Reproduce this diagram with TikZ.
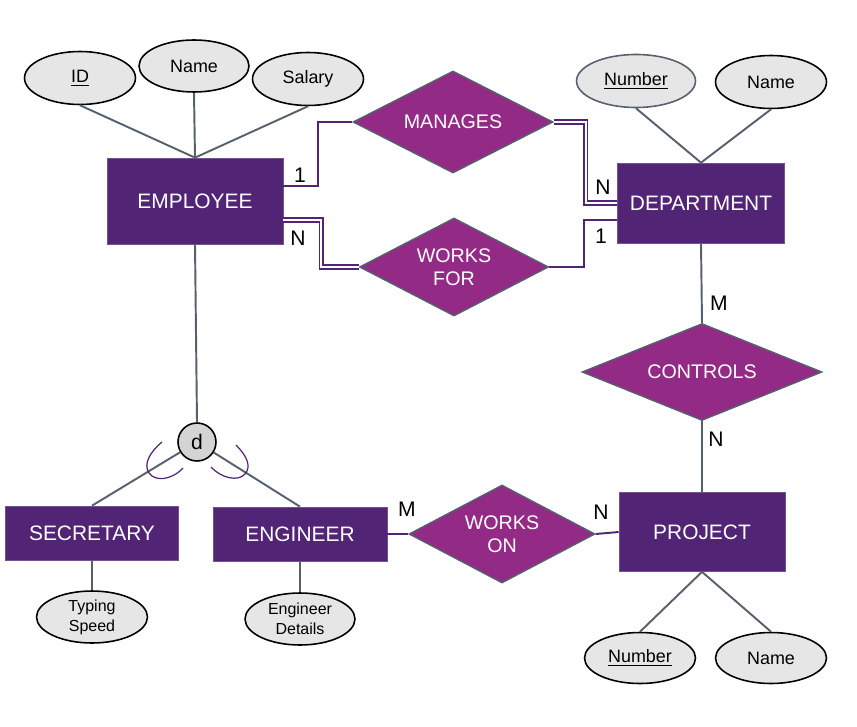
\documentclass[tikz,border=0pt]{standalone}
\usepackage{fontspec}
\setmainfont{Liberation Sans}
\usetikzlibrary{shapes.geometric}

\definecolor{entcol}{HTML}{522475}
\definecolor{relcol}{HTML}{932A86}
\definecolor{linecol}{HTML}{56606E}
\definecolor{attrcol}{HTML}{E6E6E6}

\tikzset{
  entity/.style={draw=entcol!80!white, fill=entcol, text=white, inner sep=0pt,
    font=\fontsize{11.9}{14}\selectfont},
  relation/.style={diamond, draw=linecol, line width=0.8pt, fill=relcol, inner sep=0pt},
  reltext/.style={text=white, align=center, font=\fontsize{11.2}{13}\selectfont},
  attr/.style={ellipse, draw=black, line width=0.9pt, fill=attrcol, inner sep=0pt,
    minimum width=2.22cm, minimum height=1.06cm, font=\fontsize{10.2}{12}\selectfont},
  smallattr/.style={attr, align=center, font=\fontsize{9.1}{11.3}\selectfont},
  card/.style={font=\fontsize{12}{14}\selectfont},
  aline/.style={draw=linecol, line width=1.1pt},
  rline/.style={draw=entcol, line width=1.1pt},
  dline/.style={draw=entcol, line width=0.8pt, double=white, double distance=1.3pt},
}

\begin{document}
\begin{tikzpicture}[x=0.02cm, y=-0.02cm]
\useasboundingbox (0,0) rectangle (857,726);

% entities
\node (emp) [entity, minimum width=3.52cm, minimum height=1.72cm] at (195,201) {EMPLOYEE};
\node (dept) [entity, minimum width=3.34cm, minimum height=1.6cm] at (701,203) {DEPARTMENT};
\node (proj) [entity, minimum width=3.32cm, minimum height=1.58cm] at (702,532) {PROJECT};
\node (sec) [entity, minimum width=3.46cm, minimum height=1.08cm] at (92,533) {SECRETARY};
\node (eng) [entity, minimum width=3.48cm, minimum height=1.08cm] at (300,534) {ENGINEER};

% relationships
\node (manages) [relation, minimum width=4cm, minimum height=2.04cm,
  label={[reltext]center:MANAGES}] at (453,122) {};
\node (worksfor) [relation, minimum width=3.78cm, minimum height=1.96cm,
  label={[reltext]center:WORKS\\FOR}] at (454,267) {};
\node (controls) [relation, minimum width=4.8cm, minimum height=1.94cm,
  label={[reltext]center:CONTROLS}] at (702,372) {};
\node (workson) [relation, minimum width=3.72cm, minimum height=1.96cm,
  label={[reltext]center:WORKS\\ON}] at (502,534) {};

% attributes
\node (empid) [attr] at (80,78) {\underline{ID}};
\node (empname) [attr, minimum width=2.2cm, minimum height=1.04cm] at (194,66) {Name};
\node (empsal) [attr] at (308,79) {Salary};
\node (deptnum) [attr, draw=linecol, minimum width=2.38cm] at (636,81) {\underline{Number}};
\node (deptname) [attr] at (771,82) {Name};
\node (projnum) [attr, minimum height=1.02cm] at (640,658) {\underline{Number}};
\node (projname) [attr, minimum height=1.02cm] at (771,658) {Name};
\node (typing) [smallattr, minimum height=1.04cm] at (92,617) {Typing\\Speed};
\node (engdet) [smallattr, minimum width=2.2cm, minimum height=1.04cm] at (300,619) {Engineer\\Details};

% disjoint circle
\node (isa) [circle, draw=black, line width=0.9pt, fill=attrcol!92!black, minimum size=0.76cm,
  inner sep=0pt, font=\fontsize{12}{14}\selectfont] at (197,442) {d};

% attribute lines
\draw[aline] (empid.south) -- (emp.north);
\draw[aline] (empname.south) -- (emp.north);
\draw[aline] (empsal.south) -- (emp.north);
\draw[aline] (deptnum.south) -- (dept.north);
\draw[aline] (deptname.south) -- (dept.north);
\draw[aline] (projnum.north) -- (proj.south);
\draw[aline] (projname.north) -- (proj.south);
\draw[aline] (typing.north) -- (sec.south);
\draw[aline] (engdet.north) -- (eng.south);

% relationship lines
\draw[rline] ([yshift=0.3cm]emp.east) -- ++(35,0) |- (manages.west);
\draw[dline] (manages.east) -- ++(32,0) |- (dept.west);
\draw[dline] ([yshift=-0.38cm]emp.east) -- ++(38,0) |- (worksfor.west);
\draw[rline] (worksfor.east) -- ++(35,0) |- ([yshift=-0.34cm]dept.west);
\draw[aline] (dept.south) -- (controls.north);
\draw[aline] (controls.south) -- (proj.north);
\draw[rline] (eng.east) -- (workson.west);
\draw[rline] (workson.east) -- (proj.west);

% specialisation
\draw[aline] (emp.south) -- (isa.north);
\draw[aline] (isa) -- (sec.north);
\draw[aline] (isa) -- (eng.north);
\draw[entcol, line width=0.7pt] (162,442) .. controls (150,452) and (143,464) .. (149,473)
  .. controls (155,482) and (172,480) .. (183,468);
\draw[entcol, line width=0.7pt] (236,445) .. controls (246,455) and (252,466) .. (245,474)
  .. controls (238,482) and (221,478) .. (211,467);

% cardinalities
\node (c1) [card] at (300,175) {1};
\node (c2) [card] at (298,238) {N};
\node (c3) [card] at (603,187) {N};
\node (c4) [card] at (601,236) {1};
\node (c5) [card] at (719,303) {M};
\node (c6) [card] at (716,439) {N};
\node (c7) [card] at (407,509) {M};
\node (c8) [card] at (601,512) {N};
\end{tikzpicture}
\end{document}
